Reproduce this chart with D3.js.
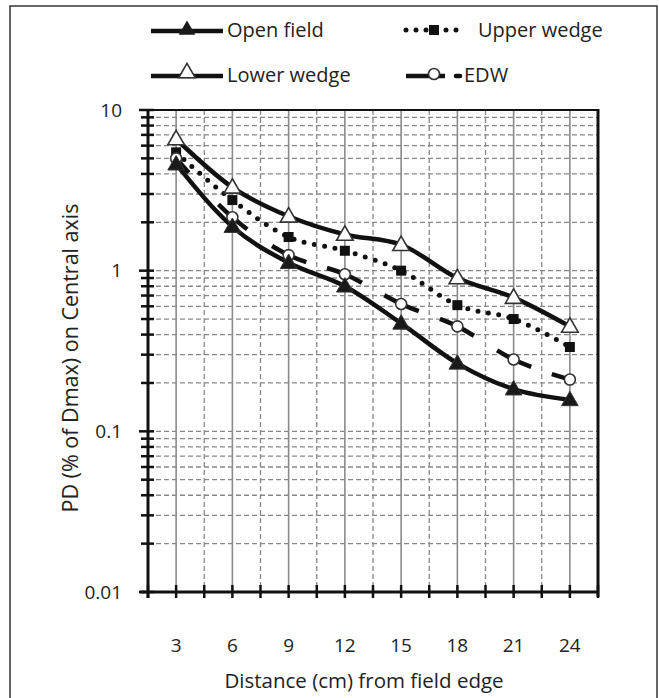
<!DOCTYPE html>
<html>
<head>
<meta charset="utf-8">
<script src="https://cdn.jsdelivr.net/npm/d3@7"></script>
<style>
  body { margin: 0; background: #fff; }
  svg { display: block; font-family: "Open Sans", "Noto Sans", sans-serif; }
</style>
</head>
<body>
<svg id="chart" width="659" height="698"></svg>
<script>
const distances = [3, 6, 9, 12, 15, 18, 21, 24];
const openField = [4.6, 1.88, 1.12, 0.8, 0.47, 0.265, 0.183, 0.157];
const upperWedge = [5.45, 2.75, 1.62, 1.33, 1.0, 0.61, 0.5, 0.335];
const lowerWedge = [6.6, 3.3, 2.18, 1.68, 1.45, 0.9, 0.68, 0.45];
const edw = [5.0, 2.15, 1.25, 0.95, 0.62, 0.45, 0.28, 0.21];

const xTickLabels = [3, 6, 9, 12, 15, 18, 21, 24];
const yTickLabels = ['0.01', '0.1', '1', '10'];

const svg = d3.select('#chart');
const W = 659, H = 698;
const plot = { left: 148, right: 598, top: 110, bottom: 592 };

svg.append('rect').attr('width', W).attr('height', H).attr('fill', '#fff');
svg.append('rect')
  .attr('x', 10).attr('y', 6).attr('width', 647).attr('height', 720)
  .attr('fill', 'none').attr('stroke', '#333').attr('stroke-width', 1.5);

const x = d3.scaleLinear().domain([1.5, 25.5]).range([plot.left, plot.right]);
const y = d3.scaleLog().domain([0.01, 10]).range([plot.bottom, plot.top]);

// grid
const g = svg.append('g');
const minorY = [];
[0.01, 0.1, 1].forEach((d) => {
  for (let k = 1; k <= 9; k++) minorY.push(d * k);
});
minorY.push(10);

g.selectAll('line.hgrid')
  .data(minorY.filter((v) => v > 0.0101 && v < 9.99))
  .enter().append('line')
  .attr('class', 'hgrid')
  .attr('x1', plot.left).attr('x2', plot.right)
  .attr('y1', (d) => y(d)).attr('y2', (d) => y(d))
  .attr('stroke', '#888').attr('stroke-width', 1.3)
  .attr('stroke-dasharray', '5,3');

const halfTicks = d3.range(4.5, 25, 3);
g.selectAll('line.vdash')
  .data(halfTicks)
  .enter().append('line')
  .attr('x1', (d) => x(d)).attr('x2', (d) => x(d))
  .attr('y1', plot.top).attr('y2', plot.bottom)
  .attr('stroke', '#888').attr('stroke-width', 1.3)
  .attr('stroke-dasharray', '5,3');

g.selectAll('line.vsolid')
  .data(xTickLabels)
  .enter().append('line')
  .attr('x1', (d) => x(d)).attr('x2', (d) => x(d))
  .attr('y1', plot.top).attr('y2', plot.bottom)
  .attr('stroke', '#8a8a8a').attr('stroke-width', 1.6);

// frame
svg.append('line')
  .attr('x1', plot.left).attr('x2', plot.right)
  .attr('y1', plot.top).attr('y2', plot.top)
  .attr('stroke', '#111').attr('stroke-width', 2);
svg.append('line')
  .attr('x1', plot.right).attr('x2', plot.right)
  .attr('y1', plot.top - 1).attr('y2', plot.bottom + 5)
  .attr('stroke', '#111').attr('stroke-width', 3);

// axes
const yAxis = svg.append('g');
yAxis.append('line')
  .attr('x1', plot.left).attr('x2', plot.left)
  .attr('y1', plot.top).attr('y2', plot.bottom + 6)
  .attr('stroke', '#111').attr('stroke-width', 3);
yAxis.selectAll('line.tick')
  .data(minorY)
  .enter().append('line')
  .attr('x1', (d) => plot.left - (Math.abs(Math.log10(d) % 1) < 1e-6 ? 9 : 7))
  .attr('x2', plot.left + 6)
  .attr('y1', (d) => y(d)).attr('y2', (d) => y(d))
  .attr('stroke', '#111').attr('stroke-width', 2.5);
yAxis.selectAll('text')
  .data(yTickLabels)
  .enter().append('text')
  .attr('x', 122).attr('y', (d) => y(+d))
  .attr('dy', '0.35em')
  .attr('text-anchor', 'end')
  .attr('font-size', 19).attr('fill', '#222')
  .text((d) => d);

const xAxis = svg.append('g');
xAxis.append('line')
  .attr('x1', plot.left - 8).attr('x2', plot.right)
  .attr('y1', plot.bottom).attr('y2', plot.bottom)
  .attr('stroke', '#111').attr('stroke-width', 3);
xAxis.selectAll('line.tick')
  .data(d3.range(1.5, 25.6, 1.5))
  .enter().append('line')
  .attr('x1', (d) => x(d)).attr('x2', (d) => x(d))
  .attr('y1', plot.bottom - 7).attr('y2', plot.bottom + 6)
  .attr('stroke', '#111').attr('stroke-width', 2.5);
xAxis.selectAll('text')
  .data(xTickLabels)
  .enter().append('text')
  .attr('x', (d) => x(d)).attr('y', 652)
  .attr('text-anchor', 'middle')
  .attr('font-size', 19).attr('fill', '#222')
  .text((d) => d);

svg.append('text')
  .attr('x', 364).attr('y', 688)
  .attr('text-anchor', 'middle')
  .attr('font-size', 20.5).attr('fill', '#222')
  .text('Distance (cm) from field edge');

svg.append('text')
  .attr('transform', 'translate(78,358) rotate(-90)')
  .attr('text-anchor', 'middle')
  .attr('font-size', 21.5).attr('fill', '#222')
  .text('PD (% of Dmax) on Central axis');

// series
const line = d3.line()
  .x((d) => x(d[0]))
  .y((d) => y(d[1]))
  .curve(d3.curveMonotoneX);

const zip = (vals) => distances.map((d, i) => [d, vals[i]]);

const triUp = d3.symbol().type(d3.symbolTriangle).size(120);
const square = d3.symbol().type(d3.symbolSquare).size(100);

function drawLine(vals, opts) {
  return svg.append('path')
    .datum(zip(vals))
    .attr('d', line)
    .attr('fill', 'none')
    .attr('stroke', '#111')
    .attr('stroke-width', opts.width || 4.5)
    .attr('stroke-linecap', opts.cap || 'butt')
    .attr('stroke-dasharray', opts.dash || null);
}

// lower wedge
drawLine(lowerWedge, {});
// upper wedge dotted
drawLine(upperWedge, { width: 5, cap: 'round', dash: '0,10.5' });
// open field
drawLine(openField, {});

// EDW dashes centred on each point
const edwPath = drawLine(edw, { width: 4.5 });
(function () {
  const node = edwPath.node();
  const total = node.getTotalLength();
  const lens = zip(edw).map((p) => {
    const tx = x(p[0]);
    let lo = 0, hi = total;
    for (let k = 0; k < 40; k++) {
      const mid = (lo + hi) / 2;
      if (node.getPointAtLength(mid).x < tx) lo = mid; else hi = mid;
    }
    return (lo + hi) / 2;
  });
  const half = 19;
  const dash = [half];
  for (let i = 1; i < lens.length; i++) {
    const gap = lens[i] - lens[i - 1] - 2 * half;
    dash.push(gap, 2 * half);
  }
  dash.push(1000);
  edwPath.attr('stroke-dasharray', dash.join(','));
})();

// markers
svg.append('g').selectAll('path')
  .data(zip(lowerWedge)).enter().append('path')
  .attr('d', triUp)
  .attr('transform', (d) => `translate(${x(d[0])},${y(d[1]) + 1})`)
  .attr('fill', '#fff').attr('stroke', '#333').attr('stroke-width', 1.6);

svg.append('g').selectAll('path')
  .data(zip(upperWedge)).enter().append('path')
  .attr('d', square)
  .attr('transform', (d) => `translate(${x(d[0])},${y(d[1])})`)
  .attr('fill', '#111');

svg.append('g').selectAll('circle')
  .data(zip(edw)).enter().append('circle')
  .attr('cx', (d) => x(d[0])).attr('cy', (d) => y(d[1]))
  .attr('r', 5.5)
  .attr('fill', '#fff').attr('stroke', '#333').attr('stroke-width', 1.6);

svg.append('g').selectAll('path')
  .data(zip(openField)).enter().append('path')
  .attr('d', triUp)
  .attr('transform', (d) => `translate(${x(d[0])},${y(d[1]) + 1})`)
  .attr('fill', '#1a1a1a').attr('stroke', '#333').attr('stroke-width', 1);

// legend
const lg = svg.append('g');
function legendText(tx, ty, label) {
  lg.append('text').attr('x', tx).attr('y', ty).attr('dy', '0.35em')
    .attr('font-size', 20).attr('fill', '#222').text(label);
}
function legendLine(x1, x2, ty, w, dash, cap) {
  lg.append('line').attr('x1', x1).attr('x2', x2).attr('y1', ty).attr('y2', ty)
    .attr('stroke', '#111').attr('stroke-width', w)
    .attr('stroke-dasharray', dash || null)
    .attr('stroke-linecap', cap || 'butt');
}

legendLine(151, 223, 31, 4.5);
lg.append('path').attr('d', triUp).attr('transform', 'translate(187,30)')
  .attr('fill', '#1a1a1a');
legendText(227, 30, 'Open field');

legendLine(406, 466, 30, 5, '0,10', 'round');
lg.append('path').attr('d', square).attr('transform', 'translate(434,30)')
  .attr('fill', '#111');
legendText(478, 30, 'Upper wedge');

legendLine(151, 223, 76, 4.5);
lg.append('path').attr('d', triUp).attr('transform', 'translate(187,73)')
  .attr('fill', '#fff').attr('stroke', '#333').attr('stroke-width', 1.6);
legendText(227, 75, 'Lower wedge');

legendLine(406, 445, 76, 4.5);
lg.append('circle').attr('cx', 434).attr('cy', 74).attr('r', 5.5)
  .attr('fill', '#fff').attr('stroke', '#333').attr('stroke-width', 1.6);
legendLine(456, 460, 76, 4.5, null, 'round');
legendText(464, 75, 'EDW');
</script>
</body>
</html>
